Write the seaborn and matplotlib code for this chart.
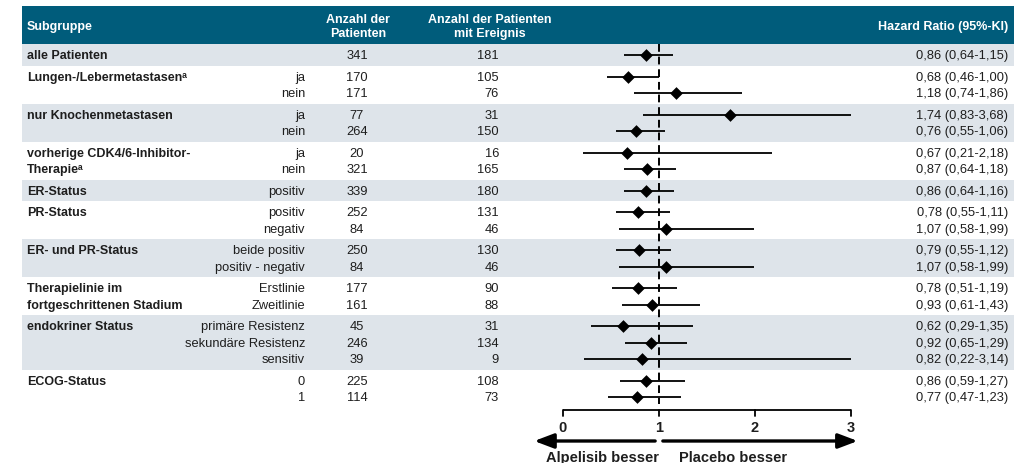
import matplotlib
matplotlib.use("Agg")
import matplotlib.pyplot as plt
import matplotlib.transforms as mtransforms
import numpy as np
import pandas as pd
import seaborn as sns

# ---- data -------------------------------------------------------------
groups = [
    "alle Patienten",
    "Lungen-/Lebermetastasenᵃ",
    "nur Knochenmetastasen",
    "vorherige CDK4/6-Inhibitor-\nTherapieᵃ",
    "ER-Status",
    "PR-Status",
    "ER- und PR-Status",
    "Therapielinie im\nfortgeschrittenen Stadium",
    "endokriner Status",
    "ECOG-Status",
]
levels = [
    [""],
    ["ja", "nein"],
    ["ja", "nein"],
    ["ja", "nein"],
    ["positiv"],
    ["positiv", "negativ"],
    ["beide positiv", "positiv - negativ"],
    ["Erstlinie", "Zweitlinie"],
    ["primäre Resistenz", "sekundäre Resistenz", "sensitiv"],
    ["0", "1"],
]
n_patients = [341, 170, 171, 77, 264, 20, 321, 339, 252, 84, 250, 84,
              177, 161, 45, 246, 39, 225, 114]
n_events = [181, 105, 76, 31, 150, 16, 165, 180, 131, 46, 130, 46,
            90, 88, 31, 134, 9, 108, 73]
hr = [0.86, 0.68, 1.18, 1.74, 0.76, 0.67, 0.87, 0.86, 0.78, 1.07, 0.79,
      1.07, 0.78, 0.93, 0.62, 0.92, 0.82, 0.86, 0.77]
ci_low = [0.64, 0.46, 0.74, 0.83, 0.55, 0.21, 0.64, 0.64, 0.55, 0.58, 0.55,
          0.58, 0.51, 0.61, 0.29, 0.65, 0.22, 0.59, 0.47]
ci_high = [1.15, 1.00, 1.86, 3.68, 1.06, 2.18, 1.18, 1.16, 1.11, 1.99, 1.12,
           1.99, 1.19, 1.43, 1.35, 1.29, 3.14, 1.27, 1.23]
axis_ticks = [0, 1, 2, 3]
header_cols = ["Subgruppe", "Anzahl der\nPatienten",
               "Anzahl der Patienten\nmit Ereignis", "Hazard Ratio (95%-KI)"]
arrow_labels = ["Alpelisib besser", "Placebo besser"]

# ---- styling ----------------------------------------------------------
W, H = 1033, 464
DPI = 100
HEAD_BG = "#005c7b"
BAND_BG = "#dee4ea"
INK = "#1e1e1e"

sns.set_theme(style="white")
plt.rcParams["font.family"] = ["Liberation Sans", "DejaVu Sans"]
plt.rcParams["axes.unicode_minus"] = False

def fmt(v):
    return f"{v:.2f}".replace(".", ",")

# ---- row layout (pixel rows, top = 0) ---------------------------------
ROW_H, PAD, TOP = 16.5, 5.0, 45.0
row_y, band_spans, group_first = [], [], []
y = TOP
for lv in levels:
    h = ROW_H * len(lv) + PAD
    band_spans.append((y, y + h))
    first = y + PAD / 2 + ROW_H / 2 + 0.5
    group_first.append(first)
    for i in range(len(lv)):
        row_y.append(first + i * ROW_H)
    y += h

df = pd.DataFrame({
    "y": row_y, "hr": hr, "lo": ci_low, "hi": ci_high,
    "n": n_patients, "ev": n_events,
    "level": [l for lv in levels for l in lv],
})

# ---- figure: one axes over the whole canvas, x in HR units -------------
X0_PX, PX_PER_UNIT = 563.0, 96.0
fig = plt.figure(figsize=(W / DPI, H / DPI), dpi=DPI)
ax = fig.add_axes([0, 0, 1, 1])
ax.set_xlim(-X0_PX / PX_PER_UNIT, (W - X0_PX) / PX_PER_UNIT)
ax.set_ylim(H, 0)
ax.axis("off")

# x in figure pixels, y in row coordinates
tr = mtransforms.blended_transform_factory(
    mtransforms.Affine2D().scale(1.0 / W, 1.0) + fig.transFigure, ax.transData)

L, R = 22, 1014
# header band
ax.add_patch(plt.Rectangle((L, 7), R - L, TOP - 7, transform=tr,
                           facecolor=HEAD_BG, edgecolor="none", zorder=0))
hd = dict(color="white", fontweight="bold", fontsize=9, va="center",
          transform=tr, linespacing=1.3)
ax.text(27, 27, header_cols[0], ha="left", **hd)
ax.text(358, 27, header_cols[1], ha="center", **hd)
ax.text(490, 27, header_cols[2], ha="center", **hd)
ax.text(1008, 27, header_cols[3], ha="right", **hd)

# alternating group bands
for k, (a, b) in enumerate(band_spans):
    if k % 2 == 0:
        ax.add_patch(plt.Rectangle((L, a), R - L, b - a, transform=tr,
                                   facecolor=BAND_BG, edgecolor="none",
                                   zorder=0))

# group labels (multi-line labels follow the rows)
for g, first in zip(groups, group_first):
    for i, line in enumerate(g.split("\n")):
        ax.text(27, first + i * ROW_H, line, ha="left", va="center",
                fontweight="bold", fontsize=9, color=INK, transform=tr)

# table columns
tx = dict(va="center", fontsize=9.3, color=INK, transform=tr)
for _, r in df.iterrows():
    if r["level"]:
        ax.text(305, r["y"], r["level"], ha="right", **tx)
    ax.text(357, r["y"], f"{r['n']}", ha="center", **tx)
    ax.text(499, r["y"], f"{r['ev']}", ha="right", **tx)
    ax.text(1008, r["y"],
            f"{fmt(r['hr'])} ({fmt(r['lo'])}-{fmt(r['hi'])})",
            ha="right", **tx)

# reference line at HR = 1
ax.plot([1, 1], [TOP, 405], color="black", lw=1.4, ls=(0, (4, 2.5)),
        zorder=2)

# confidence intervals (cut at the axis end) and point estimates
x_max = axis_ticks[-1]
ax.hlines(df["y"], df["lo"].clip(upper=x_max), df["hi"].clip(upper=x_max),
          color="black", lw=1.3, zorder=3)
sns.scatterplot(data=df, x="hr", y="y", marker="D", s=42, color="black",
                edgecolor="black", linewidth=0, ax=ax, zorder=4, legend=False)
ax.set_xlabel("")
ax.set_ylabel("")
ax.axis("off")

# HR axis
AX_Y = 411
ax.plot([axis_ticks[0], axis_ticks[-1]], [AX_Y, AX_Y], color="black",
        lw=1.3, solid_capstyle="butt")
for t in axis_ticks:
    ax.plot([t, t], [AX_Y, AX_Y + 6], color="black", lw=1.3)
    ax.text(t, 428, f"{t}", ha="center", va="center", fontsize=10.5,
            fontweight="bold", color=INK)

# direction arrows
ARR_Y = 442
arr = dict(arrowstyle="-|>,head_length=0.9,head_width=0.34",
           color="black", lw=2.4, shrinkA=0, shrinkB=0, mutation_scale=13)
ax.annotate("", xy=(-0.30, ARR_Y), xytext=(0.96, ARR_Y), arrowprops=arr)
ax.annotate("", xy=(3.07, ARR_Y), xytext=(1.04, ARR_Y), arrowprops=arr)
ax.text(0.41, 458.5, arrow_labels[0], ha="center", va="center",
        fontsize=10.5, fontweight="bold", color=INK)
ax.text(1.77, 458.5, arrow_labels[1], ha="center", va="center",
        fontsize=10.5, fontweight="bold", color=INK)

fig.savefig("out.png", dpi=DPI)
